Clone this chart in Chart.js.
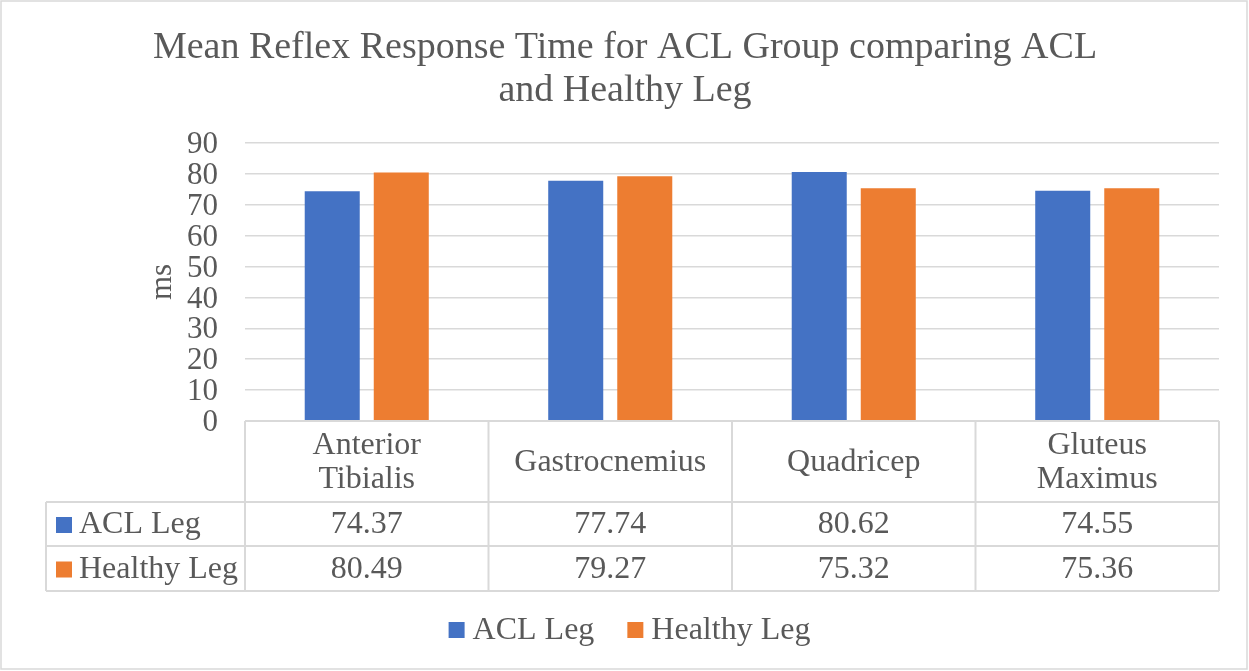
<!DOCTYPE html>
<html>
<head>
<meta charset="utf-8">
<script src="https://cdn.jsdelivr.net/npm/chart.js@4/dist/chart.umd.min.js"></script>
<style>
  html,body{margin:0;padding:0;background:#fff;}
  #wrap{width:1249px;height:671px;position:relative;}
</style>
</head>
<body>
<div id="wrap"><canvas id="c" width="1249" height="671"></canvas></div>
<script>
// --- Data ---
const titleLines = ['Mean Reflex Response Time for ACL Group comparing ACL', 'and Healthy Leg'];
const muscles = [['Anterior','Tibialis'], ['Gastrocnemius'], ['Quadricep'], ['Gluteus','Maximus']];
const aclLeg = [74.37, 77.74, 80.62, 74.55];
const healthyLeg = [80.49, 79.27, 75.32, 75.36];
const seriesNames = ['ACL Leg', 'Healthy Leg'];
const seriesColors = ['#4472C4', '#ED7D31'];
const yTicks = [0, 10, 20, 30, 40, 50, 60, 70, 80, 90];

const FONT = '"Liberation Serif", "Times New Roman", serif';
const TEXT = '#595959';
const LINE = '#d9d9d9';

// title, data table, legend and outer frame
const tablePlugin = {
  id: 'tablePlugin',
  afterDraw(chart) {
    const ctx = chart.ctx;
    const x = chart.scales.x;
    const area = chart.chartArea;
    const n = muscles.length;
    const colW = area.width / n;
    const top = area.bottom;
    const rows = [top, 502, 546, 591];
    const left = 46;
    ctx.save();

    // title
    ctx.fillStyle = TEXT;
    ctx.font = '38px ' + FONT;
    ctx.textAlign = 'center';
    ctx.textBaseline = 'middle';
    titleLines.forEach((t, i) => ctx.fillText(t, 625, 48 + i * 43));

    // table grid
    ctx.strokeStyle = LINE;
    ctx.lineWidth = 2;
    ctx.beginPath();
    ctx.moveTo(area.left, rows[0]); ctx.lineTo(area.right, rows[0]);
    for (let r = 1; r < rows.length; r++) {
      ctx.moveTo(left, rows[r]); ctx.lineTo(area.right, rows[r]);
    }
    ctx.moveTo(left, rows[1]); ctx.lineTo(left, rows[3]);
    for (let i = 0; i <= n; i++) {
      const cx = area.left + i * colW;
      ctx.moveTo(cx, rows[0]); ctx.lineTo(cx, rows[3]);
    }
    ctx.stroke();

    // header labels
    ctx.fillStyle = TEXT;
    ctx.font = '32px ' + FONT;
    muscles.forEach((lines, i) => {
      const cx = x.getPixelForValue(i);
      const mid = (rows[0] + rows[1]) / 2 + 1;
      lines.forEach((l, k) => ctx.fillText(l, cx, mid + (k - (lines.length - 1) / 2) * 34));
    });

    // value rows
    [aclLeg, healthyLeg].forEach((vals, s) => {
      const mid = (rows[s + 1] + rows[s + 2]) / 2 + 1;
      ctx.fillStyle = seriesColors[s];
      ctx.fillRect(56, mid - 8, 16, 16);
      ctx.fillStyle = TEXT;
      ctx.textAlign = 'left';
      ctx.fillText(seriesNames[s], 79, mid);
      ctx.textAlign = 'center';
      vals.forEach((v, i) => ctx.fillText(v.toFixed(2), x.getPixelForValue(i), mid));
    });

    // legend
    const ly = 631;
    ctx.textAlign = 'left';
    const w0 = ctx.measureText(seriesNames[0]).width;
    const w1 = ctx.measureText(seriesNames[1]).width;
    const gap = 33, box = 16, pad = 8;
    const total = box + pad + w0 + gap + box + pad + w1;
    let lx = 629.5 - total / 2;
    [w0, w1].forEach((w, s) => {
      ctx.fillStyle = seriesColors[s];
      ctx.fillRect(lx, ly - 1 - box / 2, box, box);
      ctx.fillStyle = TEXT;
      ctx.fillText(seriesNames[s], lx + box + pad, ly);
      lx += box + pad + w + gap;
    });

    // outer frame
    ctx.strokeStyle = LINE;
    ctx.lineWidth = 1.5;
    ctx.strokeRect(1, 1, 1246, 668);
    ctx.restore();
  }
};

new Chart(document.getElementById('c').getContext('2d'), {
  type: 'bar',
  data: {
    labels: muscles,
    datasets: [
      { label: seriesNames[0], data: aclLeg, backgroundColor: seriesColors[0] },
      { label: seriesNames[1], data: healthyLeg, backgroundColor: seriesColors[1] }
    ]
  },
  options: {
    responsive: false,
    animation: false,
    devicePixelRatio: 1,
    layout: { padding: { top: 143, left: 0, right: 30, bottom: 250 } },
    datasets: { bar: { categoryPercentage: 0.567, barPercentage: 0.797 } },
    plugins: { legend: { display: false }, title: { display: false }, tooltip: { enabled: false } },
    scales: {
      x: { display: false },
      y: {
        min: 0, max: 90,
        afterBuildTicks: s => { s.ticks = yTicks.map(v => ({ value: v })); },
        afterFit: s => { s.width = 245; },
        border: { display: false },
        grid: { color: LINE, lineWidth: 1.5, drawTicks: false },
        ticks: { color: TEXT, padding: 27, autoSkip: false, labelOffset: 2, font: { family: FONT, size: 31 } },
        title: { display: true, text: 'ms', color: TEXT, padding: { top: 144, bottom: 0 }, font: { family: FONT, size: 31 } }
      }
    }
  },
  plugins: [tablePlugin]
});
</script>
</body>
</html>
